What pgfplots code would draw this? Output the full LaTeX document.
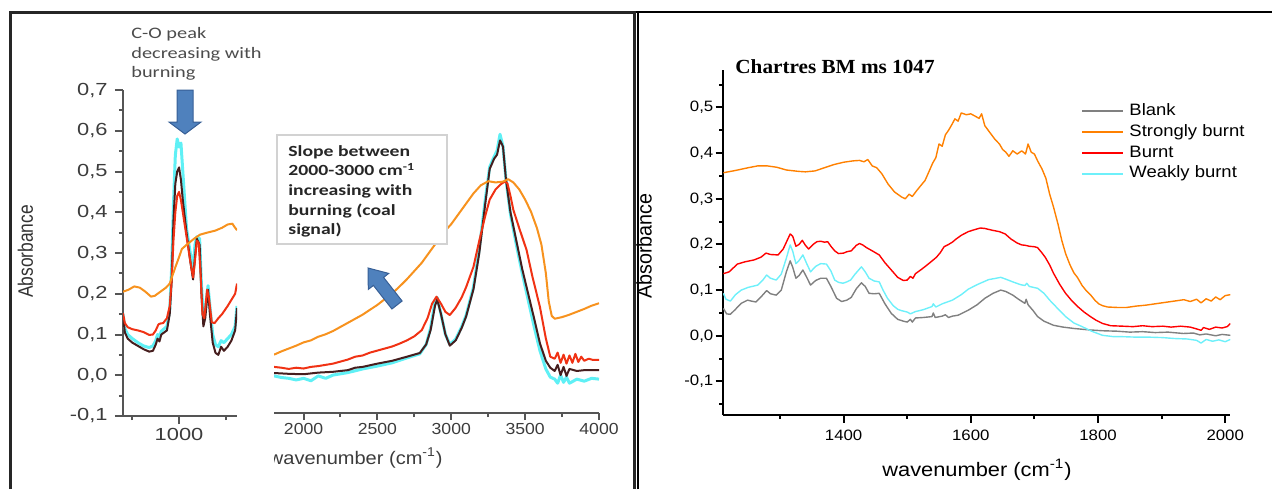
\documentclass[border=0pt]{standalone}
\usepackage{pgfplots}
\pgfplotsset{compat=1.18}
\usepackage{fontspec}
\setmainfont{Liberation Sans}
\newfontfamily\Lsans{Liberation Sans}[FakeStretch=1.25]
\newfontfamily\Msans{Liberation Sans}[FakeStretch=1.1]
\newfontfamily\Rsans{Liberation Sans}[FakeStretch=1.12]
\newfontfamily\Lcal{Carlito}[FakeStretch=1.27]
\newfontfamily\Rtimes{Liberation Serif}[FakeStretch=1.06]
\definecolor{lorange}{RGB}{247,146,30}
\definecolor{lred}{RGB}{240,50,20}
\definecolor{ldark}{RGB}{70,30,30}
\definecolor{lcyan}{RGB}{95,240,245}
\definecolor{laxis}{RGB}{85,85,85}
\definecolor{ltext}{RGB}{60,60,60}
\definecolor{rgray}{RGB}{128,128,128}
\definecolor{rorange}{RGB}{255,128,0}
\definecolor{rred}{RGB}{255,0,0}
\definecolor{rcyan}{RGB}{110,240,250}
\definecolor{arrowblue}{RGB}{79,129,189}
\definecolor{arrowedge}{RGB}{55,95,150}
\begin{document}
\begin{tikzpicture}[x=0.5pt,y=0.5pt]
\path[use as bounding box] (0,0) rectangle (1272,489);
% frames
\draw[line width=1.75pt, black!85] (10.5,0) -- (10.5,476.5) -- (634.5,476.5) -- (634.5,0);
\draw[line width=1pt, black] (637.5,0) -- (637.5,477.5);
\draw[line width=1pt, black] (636,477.5) -- (1272,477.5);

% ---------------- left portion (700-1310) ----------------
\begin{axis}[
  at={(61.5pt,36.5pt)}, anchor=south west, scale only axis,
  width=57pt, height=163pt,
  xmin=700, xmax=1310, ymin=-0.1, ymax=0.7,
  axis x line*=bottom, axis y line*=left,
  axis line style={line width=1pt, color=laxis},
  tick style={line width=1pt, color=laxis},
  tick align=outside, major tick length=4pt, minor tick length=2pt,
  xtick={1000}, xticklabels={1000}, minor xtick={750,1250},
  ytick={-0.1,0,0.1,0.2,0.3,0.4,0.5,0.6,0.7},
  yticklabels={{-0,1},{0,0},{0,1},{0,2},{0,3},{0,4},{0,5},{0,6},{0,7}},
  minor ytick={-0.05,0.05,0.15,0.25,0.35,0.45,0.55,0.65},
  tick label style={font=\Lsans\fontsize{8.75}{10}\selectfont, text=ltext},
  yticklabel style={anchor=east, inner sep=0pt, xshift=-3.5pt},
  xticklabel style={anchor=north, inner sep=0pt, yshift=-2pt},
  ylabel={\scalebox{1}[1.2]{Absorbance}},
  ylabel style={at={(axis description cs:-0.855,0.505)}, anchor=center, font=\fontsize{8.7}{10}\selectfont, text=black!80},
  every axis plot/.append style={no markers, line join=round},
]
\addplot[lcyan, line width=1.5pt] coordinates {(700,0.150)(710,0.115)(725,0.100)(750,0.090)(780,0.080)(810,0.072)(840,0.068)(860,0.072)(875,0.085)(885,0.100)(895,0.095)(905,0.108)(935,0.120)(950,0.160)(960,0.260)(970,0.420)(980,0.540)(990,0.580)(1000,0.560)(1010,0.570)(1020,0.500)(1040,0.360)(1060,0.300)(1075,0.260)(1085,0.320)(1095,0.340)(1110,0.335)(1120,0.220)(1130,0.140)(1140,0.160)(1155,0.220)(1165,0.170)(1180,0.100)(1195,0.075)(1210,0.070)(1225,0.085)(1240,0.080)(1260,0.090)(1280,0.100)(1300,0.120)(1310,0.170)};
\addplot[ldark, line width=1pt] coordinates {(700,0.145)(710,0.105)(725,0.090)(750,0.080)(780,0.072)(810,0.064)(840,0.058)(860,0.060)(875,0.075)(885,0.090)(895,0.083)(905,0.100)(935,0.110)(950,0.150)(960,0.230)(970,0.380)(980,0.470)(990,0.500)(1000,0.510)(1010,0.480)(1020,0.430)(1040,0.350)(1060,0.280)(1075,0.235)(1085,0.290)(1095,0.335)(1110,0.320)(1120,0.200)(1130,0.120)(1140,0.140)(1155,0.210)(1165,0.150)(1180,0.080)(1195,0.055)(1210,0.050)(1225,0.070)(1240,0.060)(1260,0.070)(1280,0.085)(1300,0.110)(1310,0.165)};
\addplot[lred, line width=1pt] coordinates {(700,0.152)(710,0.128)(725,0.118)(750,0.113)(780,0.110)(810,0.106)(840,0.099)(860,0.100)(875,0.110)(890,0.125)(900,0.127)(915,0.128)(935,0.140)(950,0.170)(960,0.230)(970,0.330)(980,0.400)(990,0.440)(1000,0.450)(1010,0.430)(1020,0.400)(1040,0.340)(1060,0.280)(1075,0.240)(1085,0.280)(1095,0.330)(1105,0.325)(1115,0.250)(1125,0.150)(1135,0.140)(1150,0.210)(1160,0.190)(1175,0.130)(1190,0.128)(1210,0.140)(1230,0.150)(1260,0.170)(1280,0.185)(1300,0.200)(1310,0.225)};
\addplot[lorange, line width=1pt] coordinates {(700,0.205)(730,0.210)(760,0.218)(790,0.215)(820,0.205)(850,0.193)(870,0.195)(900,0.205)(930,0.215)(950,0.225)(965,0.245)(980,0.265)(1000,0.290)(1015,0.310)(1040,0.320)(1080,0.335)(1112,0.345)(1150,0.350)(1194,0.355)(1230,0.362)(1260,0.370)(1285,0.372)(1300,0.362)(1310,0.356)};
\end{axis}

% ---------------- middle portion (1800-4000) ----------------
\begin{axis}[
  at={(137pt,38pt)}, anchor=south west, scale only axis,
  width=162.5pt, height=161.8pt,
  xmin=1800, xmax=4000, ymin=-0.093, ymax=0.7,
  axis x line*=bottom, axis y line=none,
  axis line style={line width=1pt, color=laxis},
  tick style={line width=1pt, color=laxis},
  tick align=outside, major tick length=3.5pt, minor tick length=2pt,
  xtick={2000,2500,3000,3500,4000}, xticklabels={2000,2500,3000,3500,4000},
  minor xtick={2250,2750,3250,3750},
  tick label style={font=\Msans\fontsize{8}{10}\selectfont, text=ltext},
  xticklabel style={anchor=north, inner sep=0pt, yshift=-1.25pt},
  every axis plot/.append style={no markers, line join=round},
]
\addplot[lcyan, line width=1.5pt] coordinates {(1800,-0.002)(1850,-0.006)(1900,-0.008)(1950,-0.012)(2000,-0.008)(2050,-0.014)(2100,-0.002)(2150,-0.008)(2200,0.000)(2300,0.006)(2400,0.015)(2500,0.022)(2600,0.030)(2700,0.042)(2787,0.052)(2830,0.075)(2860,0.115)(2890,0.180)(2905,0.190)(2930,0.150)(2960,0.100)(2990,0.075)(3030,0.088)(3070,0.118)(3100,0.146)(3150,0.215)(3190,0.310)(3230,0.430)(3260,0.510)(3290,0.535)(3310,0.550)(3330,0.590)(3350,0.560)(3370,0.480)(3400,0.395)(3440,0.320)(3480,0.250)(3520,0.185)(3560,0.120)(3600,0.060)(3640,0.015)(3670,-0.005)(3700,-0.010)(3720,-0.020)(3740,0.000)(3760,-0.018)(3780,-0.005)(3800,-0.020)(3850,-0.010)(3900,-0.015)(3950,-0.008)(4000,-0.010)};
\addplot[ldark, line width=1pt] coordinates {(1800,0.005)(1900,0.003)(2000,0.002)(2100,0.006)(2200,0.008)(2300,0.012)(2350,0.018)(2400,0.020)(2500,0.028)(2600,0.035)(2700,0.045)(2787,0.054)(2830,0.075)(2860,0.110)(2890,0.170)(2905,0.185)(2930,0.150)(2960,0.100)(2990,0.072)(3030,0.085)(3070,0.115)(3100,0.143)(3150,0.210)(3190,0.300)(3230,0.420)(3260,0.505)(3290,0.530)(3310,0.540)(3330,0.575)(3350,0.560)(3370,0.480)(3400,0.400)(3440,0.330)(3480,0.260)(3520,0.200)(3560,0.140)(3600,0.078)(3640,0.035)(3670,0.018)(3700,0.010)(3720,0.025)(3740,0.000)(3760,0.020)(3780,-0.002)(3800,0.015)(3850,0.010)(3900,0.012)(3950,0.012)(4000,0.012)};
\addplot[lred, line width=1pt] coordinates {(1800,0.020)(1850,0.018)(1900,0.015)(1950,0.018)(2000,0.016)(2050,0.020)(2100,0.022)(2150,0.025)(2200,0.028)(2250,0.033)(2300,0.038)(2350,0.045)(2400,0.048)(2450,0.055)(2500,0.060)(2550,0.065)(2600,0.070)(2650,0.077)(2700,0.085)(2750,0.095)(2800,0.110)(2840,0.140)(2870,0.175)(2900,0.192)(2930,0.175)(2960,0.155)(2990,0.147)(3030,0.165)(3070,0.190)(3100,0.215)(3150,0.265)(3190,0.330)(3230,0.390)(3260,0.430)(3300,0.455)(3330,0.466)(3360,0.474)(3380,0.470)(3400,0.440)(3420,0.405)(3460,0.360)(3510,0.306)(3550,0.240)(3600,0.167)(3640,0.090)(3670,0.045)(3700,0.040)(3720,0.055)(3740,0.030)(3760,0.050)(3780,0.028)(3800,0.048)(3820,0.030)(3840,0.052)(3860,0.032)(3880,0.045)(3900,0.035)(3930,0.040)(3960,0.037)(4000,0.037)};
\addplot[lorange, line width=1pt] coordinates {(1800,0.050)(1850,0.058)(1900,0.065)(1950,0.072)(2000,0.080)(2050,0.085)(2100,0.094)(2150,0.100)(2200,0.108)(2250,0.118)(2300,0.128)(2350,0.138)(2400,0.148)(2450,0.160)(2500,0.172)(2550,0.186)(2600,0.200)(2650,0.217)(2700,0.235)(2750,0.255)(2800,0.275)(2850,0.300)(2900,0.325)(2950,0.350)(3000,0.370)(3050,0.395)(3100,0.420)(3150,0.445)(3200,0.465)(3250,0.475)(3300,0.472)(3350,0.474)(3385,0.480)(3420,0.472)(3460,0.455)(3500,0.430)(3540,0.400)(3580,0.360)(3610,0.320)(3640,0.250)(3660,0.180)(3680,0.145)(3700,0.138)(3750,0.142)(3800,0.148)(3850,0.155)(3900,0.162)(3950,0.170)(4000,0.176)};
\end{axis}

% ---------------- right panel ----------------
\begin{axis}[
  at={(361.6pt,37pt)}, anchor=south west, scale only axis,
  width=253.55pt, height=172.5pt,
  xmin=1210.7, xmax=2008, ymin=-0.1735, ymax=0.582,
  axis x line*=bottom, axis y line*=left,
  axis line style={line width=1pt, color=black},
  tick style={line width=1pt, color=black},
  tick align=outside, major tick length=3.75pt, minor tick length=2pt,
  xtick={1400,1600,1800,2000}, xticklabels={1400,1600,1800,2000},
  minor xtick={1300,1500,1700,1900},
  ytick={-0.1,0,0.1,0.2,0.3,0.4,0.5},
  yticklabels={{-0,1},{0,0},{0,1},{0,2},{0,3},{0,4},{0,5}},
  minor ytick={-0.15,-0.05,0.05,0.15,0.25,0.35,0.45,0.55},
  tick label style={font=\Rsans\fontsize{7.5}{9}\selectfont, text=black},
  yticklabel style={anchor=east, inner sep=0pt, xshift=-1pt},
  xticklabel style={anchor=north, inner sep=0pt, yshift=-3.5pt},
  xlabel={wavenumber (cm\textsuperscript{-1})},
  xlabel style={at={(axis description cs:0.5005,-0.159)}, anchor=center, font=\Rsans\fontsize{9.75}{11}\selectfont},
  ylabel={\scalebox{1}[1.07]{Absorbance}},
  ylabel style={at={(axis description cs:-0.156,0.49)}, anchor=center, font=\fontsize{9.85}{11}\selectfont},
  title={Chartres BM ms 1047},
  title style={at={(axis description cs:0.0233,1.0096)}, anchor=west, inner sep=0pt, yshift=-6pt, font=\Rtimes\bfseries\fontsize{10}{12}\selectfont},
  legend style={at={(axis description cs:0.7056,0.904)}, anchor=north west, draw=none, fill=none,
    font=\Rsans\fontsize{8.25}{10}\selectfont, row sep=2.6pt, column sep=2.5pt, inner sep=0pt,
    nodes={inner sep=0pt, text height=6pt, text depth=1.8pt}},
  legend cell align=left,
  legend image code/.code={\draw[#1, line width=1pt] (0pt,0pt) -- (20.5pt,0pt);},
  every axis plot/.append style={no markers, line join=round, line width=0.7pt},
]
\addplot[rgray] coordinates {(1211,0.060)(1216,0.048)(1222,0.047)(1230,0.058)(1239,0.071)(1249,0.078)(1255,0.076)(1262,0.074)(1272,0.088)(1279,0.099)(1285,0.092)(1294,0.089)(1302,0.100)(1310,0.140)(1316,0.164)(1320,0.150)(1325,0.126)(1330,0.132)(1336,0.144)(1342,0.128)(1348,0.111)(1356,0.121)(1364,0.126)(1373,0.126)(1380,0.108)(1389,0.082)(1397,0.075)(1405,0.078)(1412,0.084)(1420,0.103)(1428,0.116)(1434,0.108)(1440,0.093)(1448,0.092)(1456,0.093)(1465,0.070)(1475,0.049)(1485,0.036)(1494,0.032)(1500,0.030)(1505,0.036)(1508,0.030)(1513,0.039)(1525,0.040)(1539,0.042)(1541,0.050)(1544,0.040)(1555,0.043)(1560,0.046)(1565,0.040)(1571,0.043)(1580,0.045)(1596,0.056)(1610,0.068)(1622,0.082)(1635,0.093)(1647,0.100)(1655,0.097)(1666,0.089)(1675,0.080)(1685,0.071)(1687,0.080)(1690,0.068)(1698,0.055)(1705,0.042)(1715,0.032)(1730,0.023)(1745,0.019)(1762,0.016)(1785,0.013)(1807,0.011)(1830,0.010)(1850,0.008)(1870,0.009)(1890,0.007)(1910,0.008)(1934,0.005)(1950,0.006)(1960,0.002)(1970,0.004)(1985,0.000)(1995,0.003)(2008,0.001)};
\addlegendentry{Blank}
\addplot[rorange] coordinates {(1211,0.357)(1230,0.362)(1250,0.368)(1265,0.372)(1280,0.372)(1295,0.369)(1310,0.363)(1329,0.360)(1340,0.359)(1355,0.361)(1370,0.368)(1385,0.375)(1400,0.380)(1415,0.383)(1425,0.384)(1432,0.381)(1438,0.386)(1445,0.372)(1452,0.368)(1460,0.355)(1470,0.332)(1480,0.315)(1491,0.304)(1497,0.300)(1503,0.310)(1508,0.305)(1515,0.318)(1522,0.330)(1528,0.340)(1535,0.362)(1540,0.378)(1545,0.390)(1550,0.420)(1555,0.415)(1560,0.440)(1565,0.450)(1570,0.462)(1575,0.475)(1580,0.470)(1585,0.488)(1593,0.484)(1600,0.486)(1608,0.480)(1613,0.476)(1617,0.486)(1622,0.460)(1630,0.445)(1638,0.430)(1645,0.420)(1650,0.408)(1655,0.402)(1660,0.393)(1666,0.405)(1673,0.398)(1680,0.405)(1686,0.398)(1690,0.420)(1695,0.402)(1700,0.398)(1705,0.383)(1712,0.365)(1718,0.345)(1724,0.310)(1730,0.282)(1737,0.245)(1743,0.209)(1749,0.180)(1756,0.155)(1762,0.138)(1768,0.127)(1775,0.110)(1782,0.098)(1788,0.090)(1795,0.078)(1801,0.070)(1807,0.066)(1815,0.063)(1830,0.062)(1845,0.062)(1860,0.065)(1875,0.067)(1890,0.070)(1905,0.073)(1920,0.076)(1935,0.079)(1945,0.075)(1955,0.080)(1962,0.072)(1970,0.081)(1978,0.076)(1985,0.085)(1992,0.079)(2000,0.088)(2008,0.090)};
\addlegendentry{Strongly burnt}
\addplot[rred] coordinates {(1211,0.136)(1220,0.140)(1233,0.157)(1245,0.162)(1259,0.166)(1270,0.172)(1278,0.181)(1285,0.178)(1297,0.177)(1305,0.190)(1316,0.223)(1320,0.218)(1325,0.196)(1330,0.200)(1335,0.209)(1340,0.198)(1345,0.190)(1352,0.200)(1358,0.206)(1364,0.207)(1370,0.205)(1375,0.206)(1380,0.196)(1386,0.186)(1392,0.180)(1400,0.181)(1405,0.184)(1412,0.186)(1420,0.198)(1425,0.202)(1430,0.199)(1436,0.193)(1445,0.186)(1456,0.177)(1465,0.160)(1475,0.144)(1485,0.128)(1494,0.121)(1500,0.122)(1505,0.130)(1509,0.126)(1513,0.136)(1523,0.146)(1533,0.157)(1540,0.165)(1546,0.172)(1552,0.182)(1558,0.195)(1565,0.200)(1571,0.205)(1577,0.212)(1585,0.220)(1596,0.228)(1605,0.232)(1615,0.236)(1622,0.235)(1634,0.231)(1645,0.228)(1654,0.223)(1663,0.212)(1673,0.203)(1680,0.199)(1686,0.198)(1692,0.196)(1700,0.195)(1705,0.193)(1711,0.183)(1717,0.172)(1724,0.155)(1730,0.137)(1740,0.112)(1749,0.093)(1758,0.078)(1768,0.064)(1778,0.052)(1788,0.042)(1797,0.034)(1807,0.027)(1820,0.022)(1839,0.021)(1855,0.020)(1870,0.022)(1885,0.020)(1902,0.021)(1915,0.019)(1930,0.021)(1945,0.019)(1955,0.015)(1962,0.012)(1966,0.018)(1975,0.014)(1985,0.019)(1995,0.017)(2003,0.020)(2008,0.027)};
\addlegendentry{Burnt}
\addplot[rcyan] coordinates {(1211,0.093)(1215,0.080)(1222,0.076)(1230,0.090)(1239,0.100)(1250,0.106)(1265,0.111)(1273,0.122)(1279,0.133)(1285,0.126)(1294,0.122)(1302,0.135)(1310,0.170)(1316,0.199)(1320,0.185)(1325,0.158)(1330,0.165)(1336,0.177)(1342,0.158)(1348,0.140)(1356,0.152)(1364,0.158)(1373,0.157)(1380,0.142)(1386,0.122)(1392,0.117)(1399,0.115)(1405,0.118)(1411,0.122)(1418,0.135)(1428,0.151)(1434,0.140)(1440,0.126)(1448,0.120)(1456,0.118)(1462,0.100)(1469,0.082)(1478,0.066)(1485,0.058)(1491,0.055)(1500,0.052)(1505,0.048)(1513,0.053)(1525,0.057)(1539,0.064)(1541,0.070)(1545,0.063)(1555,0.070)(1571,0.078)(1585,0.090)(1596,0.102)(1610,0.112)(1628,0.123)(1640,0.126)(1647,0.128)(1655,0.124)(1666,0.118)(1678,0.112)(1685,0.110)(1688,0.115)(1692,0.108)(1705,0.104)(1715,0.093)(1724,0.078)(1735,0.062)(1749,0.042)(1762,0.028)(1775,0.020)(1790,0.010)(1807,0.001)(1825,-0.002)(1839,-0.002)(1860,-0.003)(1880,-0.003)(1902,-0.004)(1920,-0.006)(1940,-0.007)(1955,-0.010)(1962,-0.016)(1970,-0.008)(1980,-0.012)(1990,-0.009)(2000,-0.013)(2008,-0.008)};
\addlegendentry{Weakly burnt}
\end{axis}

% ---------------- annotations (left panel) ----------------
\node[anchor=north west, inner sep=0pt, align=left, font=\Lcal\fontsize{8}{9.75}\selectfont, text=black!70] at (131,462) {C-O peak\\decreasing with\\burning};
\filldraw[fill=arrowblue, draw=arrowedge, line width=0.5pt] (177,399) -- (193,399) -- (193,367) -- (201,367) -- (185,355) -- (169,367) -- (177,367) -- cycle;
\draw[gray!35, fill=white, line width=0.6pt] (277,354) rectangle (447,245);
\node[anchor=north west, inner sep=0pt, align=left, font=\Lcal\bfseries\fontsize{7.75}{9.8}\selectfont, text=black!85] at (288,344) {Slope between\\2000-3000 cm\textsuperscript{-1}\\increasing with\\burning (coal\\signal)};
\filldraw[fill=arrowblue, draw=arrowedge, line width=0.5pt] (368,221) -- (388.7,215.6) -- (383.6,211.6) -- (402.1,188.0) -- (391.9,180.0) -- (373.4,203.6) -- (368.3,199.6) -- cycle;
\begin{scope}
\clip (274,0) rectangle (630,489);
\node[anchor=east, inner sep=0pt, font=\Msans\fontsize{9.1}{11}\selectfont, text=ltext] at (443,31) {wavenumber (cm\textsuperscript{-1})};
\end{scope}
\end{tikzpicture}
\end{document}
